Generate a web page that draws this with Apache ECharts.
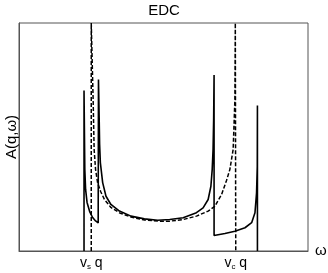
<!DOCTYPE html>
<html>
<head>
<meta charset="utf-8">
<script src="https://cdn.jsdelivr.net/npm/echarts@6/dist/echarts.min.js"></script>
<style>
html,body{margin:0;padding:0;background:#fff;}
#chart{width:328px;height:273px;}
</style>
</head>
<body>
<div id="chart"></div>
<script>
// Solid curve (interacting spectral function)
const solidOmega = [0.95, 0.95, 0.954, 0.9555, 0.961, 0.971, 0.989, 1.0095, 1.030, 1.048, 1.05,
  1.05, 1.055, 1.058, 1.063, 1.079, 1.102, 1.136, 1.195, 1.275, 1.368, 1.460, 1.543, 1.636, 1.728,
  1.774, 1.809, 1.828, 1.837, 1.843, 1.847, 1.85,
  1.85, 1.925, 1.994, 2.064, 2.110, 2.133, 2.144, 2.149, 2.15, 2.15];
const solidA = [0, 7.04, 4.45, 3.57, 2.70, 2.13, 1.73, 1.47, 1.32, 1.23, 1.21,
  7.52, 5.77, 4.67, 3.88, 3.00, 2.40, 2.04, 1.75, 1.53, 1.41, 1.35, 1.38, 1.46, 1.68,
  1.89, 2.26, 2.84, 3.57, 4.45, 5.77, 7.72,
  0.68, 0.77, 0.87, 1.02, 1.24, 1.68, 2.55, 3.72, 6.38, 0];
// Dashed curve (non-interacting reference)
const dashedOmega = [1.0, 1.0, 1.006, 1.013, 1.020, 1.030, 1.044, 1.065, 1.091, 1.136, 1.197, 1.275,
  1.370, 1.474, 1.543, 1.636, 1.728, 1.809, 1.855, 1.902, 1.936, 1.959, 1.982, 1.994, 1.997, 2.0, 2.0];
const dashedA = [0, 10, 10, 6.64, 4.45, 3.57, 3.00, 2.61, 2.26, 1.91, 1.67, 1.49,
  1.36, 1.31, 1.31, 1.38, 1.53, 1.75, 1.96, 2.48, 3.09, 3.57, 4.45, 6.64, 10, 10, 0];
// Tick labels
const tickValues = [1, 2];
const tickLabels = ['{v|v}{s|s}{v| q}', '{v|v}{s|c}{v| q}'];

const pair = (xs, ys) => xs.map((x, i) => [x, ys[i]]);
const FONT = 'Liberation Sans, Arial';

const chart = echarts.init(document.getElementById('chart'), null, {renderer: 'canvas'});
chart.setOption({
  animation: false,
  backgroundColor: '#fff',
  title: {
    text: 'EDC', left: 'center', top: 3, padding: 0,
    textStyle: {fontFamily: FONT, fontSize: 15, fontWeight: 'normal', color: '#000'}
  },
  grid: {left: 19, right: 20, top: 23, bottom: 22, show: true, borderColor: '#555', borderWidth: 1,
         containLabel: false, outerBoundsMode: 'none'},
  xAxis: {
    type: 'value', min: 0.5, max: 2.5,
    name: 'ω', nameLocation: 'end', nameGap: 7,
    nameTextStyle: {fontFamily: FONT, fontSize: 15, color: '#000', verticalAlign: 'middle'},
    axisLine: {show: true, lineStyle: {color: '#555', width: 1}},
    axisTick: {show: false},
    splitLine: {show: false},
    axisLabel: {
      customValues: tickValues,
      margin: 5,
      formatter: v => tickLabels[tickValues.indexOf(v)] || '',
      rich: {
        v: {fontFamily: FONT, fontSize: 14, color: '#000'},
        s: {fontFamily: FONT, fontSize: 8, color: '#000', padding: [7, 0, 0, 0], verticalAlign: 'bottom'}
      }
    }
  },
  yAxis: {
    type: 'value', min: 0, max: 10,
    name: 'A(q,ω)', nameLocation: 'middle', nameGap: 0,
    nameTextStyle: {fontFamily: FONT, fontSize: 15, color: '#000'},
    axisLine: {show: true, lineStyle: {color: '#555', width: 1}},
    axisTick: {show: false},
    axisLabel: {show: false},
    splitLine: {show: false}
  },
  series: [
    {
      type: 'line', data: pair(dashedOmega, dashedA), symbol: 'none', clip: true,
      lineStyle: {color: '#000', width: 1.5, type: [4, 2]}
    },
    {
      type: 'line', data: pair(solidOmega, solidA), symbol: 'none', clip: true,
      lineStyle: {color: '#000', width: 1.6}
    }
  ]
});
</script>
</body>
</html>
